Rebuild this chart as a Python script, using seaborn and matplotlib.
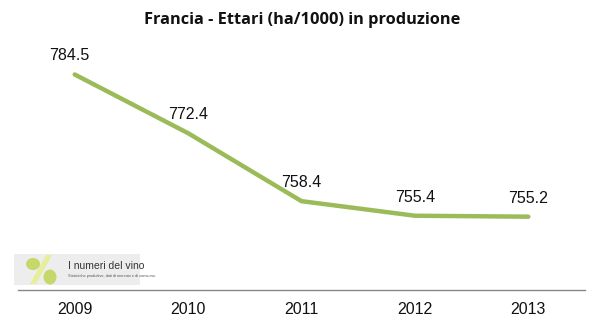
import matplotlib
matplotlib.use("Agg")
import matplotlib.pyplot as plt
import seaborn as sns
import pandas as pd
from matplotlib.patches import Rectangle, Ellipse, Polygon

years = ["2009", "2010", "2011", "2012", "2013"]
hectares = [784.5, 772.4, 758.4, 755.4, 755.2]
labels = ["784.5", "772.4", "758.4", "755.4", "755.2"]
title = "Francia - Ettari (ha/1000) in produzione"

sns.set_theme(style="white")
plt.rcParams["font.family"] = ["Liberation Sans", "DejaVu Sans"]

fig = plt.figure(figsize=(5.98, 3.26), dpi=100)
ax = fig.add_axes([18/598, 1 - 290/326, 567/598, 250/326])

df = pd.DataFrame({"year": years, "ha": hectares})
sns.lineplot(data=df, x="year", y="ha", ax=ax, color="#9BBB59", linewidth=3.2,
             solid_capstyle="round", solid_joinstyle="round")

for i, (v, lab) in enumerate(zip(hectares, labels)):
    ax.annotate(lab, (i, v), xytext=(-4 if i == 0 else 0, 8), textcoords="offset points",
                ha="center", va="bottom", fontsize=11.5, color="#111111")

ax.set_xlim(-0.5, 4.5)
ax.set_ylim(740.1, 791.6)
ax.set_yticks([])
ax.set_xlabel("")
ax.set_ylabel("")
for s in ["top", "right", "left"]:
    ax.spines[s].set_visible(False)
ax.spines["bottom"].set_color("#888888")
ax.spines["bottom"].set_linewidth(1.0)
ax.tick_params(axis="x", length=0, pad=9, labelsize=11.5, labelcolor="#111111")

fig.text(302/598, 1 - 20/326, title, ha="center", va="center", fontsize=11.8,
         fontweight="bold", family=["Open Sans", "DejaVu Sans"], color="#111111")

# logo
fig.patches.append(Rectangle((14/598, 1 - 285/326), 126/598, 31/326, transform=fig.transFigure,
                             facecolor="#EDEDED", edgecolor="none", zorder=0))
fig.patches.append(Polygon([(30/598, 1-284/326), (36/598, 1-284/326), (52/598, 1-255/326), (46/598, 1-255/326)],
                           closed=True, transform=fig.transFigure, facecolor="#E6EE9C", edgecolor="none"))
fig.patches.append(Ellipse((33/598, 1-264/326), 14/598, 12/326, transform=fig.transFigure,
                           facecolor="#C5D96A", edgecolor="none"))
fig.patches.append(Ellipse((50/598, 1-277/326), 13/598, 15/326, transform=fig.transFigure,
                           facecolor="#C5D96A", edgecolor="none"))
fig.text(68/598, 1 - 266/326, "I numeri del vino", fontsize=7.5, color="#333333",
         family=["Liberation Sans Narrow", "Liberation Sans"], va="center")
fig.text(68/598, 1 - 276/326, "Statistiche produttive, dati di mercato e di consumo.", fontsize=2.8,
         color="#555555", va="center")

fig.savefig("out.png", dpi=100)
